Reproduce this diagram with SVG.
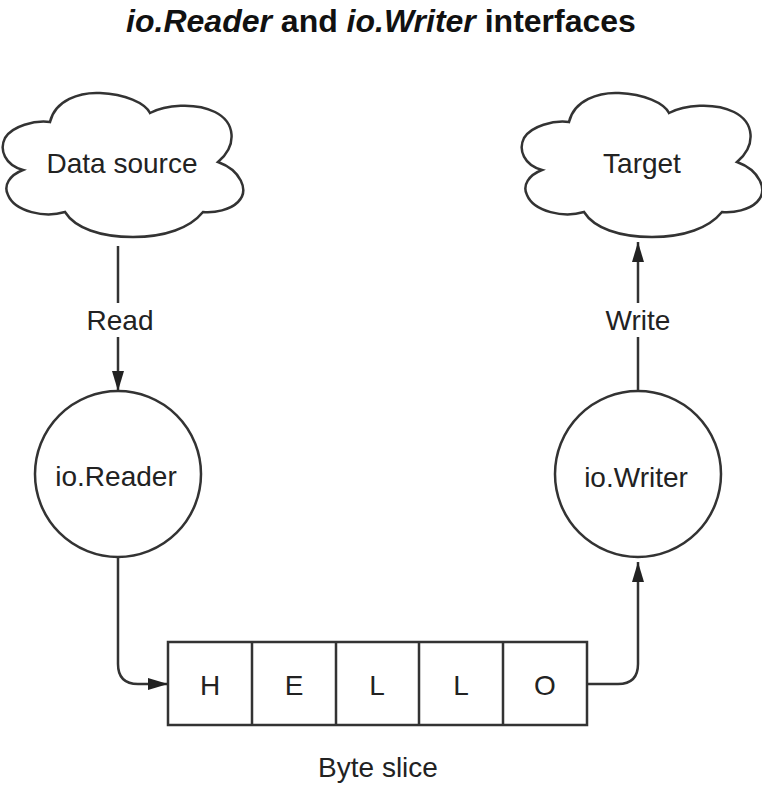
<svg xmlns="http://www.w3.org/2000/svg" width="762" height="788" viewBox="0 0 762 788">
<style>
.shape{fill:#fff;stroke:#333;stroke-width:2.5}
.conn{fill:none;stroke:#333;stroke-width:2.5}
.lbl{font-family:"Liberation Sans",Arial,sans-serif;font-size:28px;fill:#222;text-anchor:middle}
.title{font-family:"Liberation Sans",Arial,sans-serif;font-size:32px;font-weight:bold;fill:#111;text-anchor:middle}
</style>
<defs>
<marker id="arr" viewBox="0 0 20 12" refX="20" refY="6" markerWidth="20" markerHeight="12" markerUnits="userSpaceOnUse" orient="auto">
<path d="M0,0 L20,6 L0,12 Z" fill="#222"/>
</marker>
<path id="cloud" d="M50,122 C55,100 80,92 100,93 C125,94 145,103 150,113 C165,105 195,102 215,112 C235,122 238,145 218,162 C240,170 250,190 238,202 C230,210 215,213 203,212 C190,228 165,237 133,237 C100,237 75,228 65,212 C45,218 15,212 8,195 C3,185 10,175 23,170 C5,165 -1,150 5,138 C12,126 35,120 50,122 Z"/>
</defs>
<rect width="762" height="788" fill="#fff"/>
<text class="title" x="381" y="32"><tspan font-style="italic">io.Reader</tspan> and <tspan font-style="italic">io.Writer</tspan> interfaces</text>
<g id="data-source">
<use href="#cloud" class="shape"/>
<text class="lbl" x="122" y="173">Data source</text>
</g>
<g id="target">
<use href="#cloud" class="shape" transform="translate(519,0)"/>
<text class="lbl" x="642" y="173">Target</text>
</g>
<g id="io-reader">
<circle class="shape" cx="118" cy="474" r="83"/>
<text class="lbl" x="116" y="486">io.Reader</text>
</g>
<g id="io-writer">
<circle class="shape" cx="638" cy="474" r="83"/>
<text class="lbl" x="636" y="487">io.Writer</text>
</g>
<g id="byte-slice">
<rect class="shape" x="168" y="642" width="419" height="83"/>
<path class="conn" d="M252,642 V725 M336,642 V725 M419,642 V725 M503,642 V725"/>
<text class="lbl" x="210" y="695">H</text>
<text class="lbl" x="294" y="695">E</text>
<text class="lbl" x="377" y="695">L</text>
<text class="lbl" x="461" y="695">L</text>
<text class="lbl" x="545" y="695">O</text>
<text class="lbl" x="378" y="777">Byte slice</text>
</g>
<g id="connectors">
<path class="conn" d="M118,246 V303"/>
<path class="conn" d="M118,337 V391" marker-end="url(#arr)"/>
<text class="lbl" x="120" y="330">Read</text>
<path class="conn" d="M638,391 V337"/>
<path class="conn" d="M638,303 V242" marker-end="url(#arr)"/>
<text class="lbl" x="638" y="330">Write</text>
<path class="conn" d="M118,557 V664 Q118,684 138,684 H168" marker-end="url(#arr)"/>
<path class="conn" d="M587,684 H618 Q638,684 638,664 V562" marker-end="url(#arr)"/>
</g>
</svg>
